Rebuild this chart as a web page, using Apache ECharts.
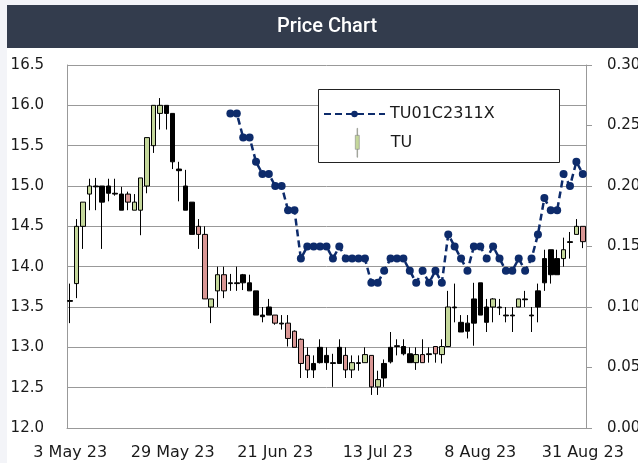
<!DOCTYPE html>
<html>
<head>
<meta charset="utf-8">
<script src="https://cdn.jsdelivr.net/npm/echarts@6/dist/echarts.min.js"></script>
<style>
html, body { margin: 0; padding: 0; background: #f3f4f8; overflow: hidden; width: 638px; height: 463px; }
#main { position: absolute; left: 7px; top: 5px; width: 693px; height: 458px; background: #ffffff; }
</style>
</head>
<body>
<div id="main"></div>
<script>
// trading days shown on the category axis
var dates = ['3 May 23','8 May 23','9 May 23','10 May 23','11 May 23','12 May 23','15 May 23','16 May 23','17 May 23','18 May 23','19 May 23','22 May 23','23 May 23','24 May 23','25 May 23','26 May 23','29 May 23','30 May 23','31 May 23',
  '1 Jun 23','2 Jun 23','6 Jun 23','7 Jun 23','8 Jun 23','9 Jun 23','12 Jun 23','13 Jun 23','14 Jun 23','15 Jun 23','16 Jun 23','19 Jun 23','20 Jun 23','21 Jun 23','22 Jun 23','23 Jun 23','26 Jun 23','27 Jun 23','28 Jun 23','29 Jun 23','30 Jun 23',
  '3 Jul 23','4 Jul 23','5 Jul 23','6 Jul 23','7 Jul 23','10 Jul 23','11 Jul 23','12 Jul 23','13 Jul 23','14 Jul 23','17 Jul 23','18 Jul 23','19 Jul 23','20 Jul 23','21 Jul 23','24 Jul 23','25 Jul 23','26 Jul 23','27 Jul 23','31 Jul 23',
  '2 Aug 23','3 Aug 23','4 Aug 23','7 Aug 23','8 Aug 23','9 Aug 23','10 Aug 23','11 Aug 23','15 Aug 23','16 Aug 23','17 Aug 23','18 Aug 23','21 Aug 23','22 Aug 23','23 Aug 23','24 Aug 23','25 Aug 23','28 Aug 23','29 Aug 23','30 Aug 23','31 Aug 23'];

// TU prices
var open = [13.58,13.79,14.50,14.90,15.00,15.00,15.00,14.91,14.90,14.90, 14.70,14.70,15.00,15.50,15.90,16.00,15.90,15.21,15.00,14.80,
  14.50,14.40,13.50,13.70,13.90,13.80,13.80,13.90,13.80,13.70, 13.40,13.50,13.40,13.30,13.30,13.20,13.10,12.90,12.80,13.00,
  12.90,12.81,13.00,12.90,12.72,12.81,12.81,12.90,12.51,12.80, 13.00,13.02,13.01,12.92,12.81,12.91,12.92,13.01,12.91,13.01,
  13.50,13.31,13.30,13.60,13.80,13.50,13.50,13.50,13.40,13.40, 13.50,13.60,13.40,13.70,14.10,14.21,14.10,14.10,14.31,14.40, 14.50];
var close = [13.57,14.50,14.80,15.00,14.99,14.80,14.91,14.90,14.70,14.80, 14.80,15.10,15.60,16.00,16.00,15.90,15.30,15.19,14.70,14.40,
  14.40,13.60,13.60,13.90,13.70,13.79,13.79,13.80,13.70,13.40, 13.38,13.40,13.30,13.29,13.11,13.00,12.80,12.72,12.72,12.81,
  12.81,12.80,12.80,12.72,12.81,12.80,12.91,12.51,12.60,12.62, 12.82,13.01,12.92,12.81,12.91,12.81,12.91,12.92,13.01,13.50,
  13.49,13.19,13.20,13.30,13.40,13.31,13.60,13.49,13.39,13.39, 13.60,13.59,13.39,13.50,13.80,13.90,13.90,14.21,14.30,14.50, 14.31];
var low = [13.30,13.61,14.22,14.70,14.70,14.22,14.81,14.88,14.70,14.70, 14.70,14.39,14.91,15.41,15.70,15.70,15.21,14.81,14.70,14.40,
  14.22,13.60,13.30,13.50,13.61,13.70,13.70,13.71,13.70,13.40, 13.31,13.40,13.28,13.22,13.01,13.00,12.62,12.62,12.62,12.80,
  12.72,12.51,12.80,12.62,12.62,12.71,12.81,12.41,12.41,12.51, 12.80,12.90,12.90,12.81,12.72,12.81,12.81,12.81,12.80,13.01,
  13.31,13.19,13.11,13.02,13.40,13.19,13.31,13.40,13.31,13.19, 13.50,13.50,13.19,13.31,13.70,13.79,13.90,14.00,14.10,14.40, 14.23];
var high = [13.79,14.59,14.80,15.09,15.10,15.00,15.09,15.09,14.99,14.93, 14.90,15.10,15.60,16.00,16.09,16.00,15.90,15.30,15.20,14.80,
  14.59,14.50,13.60,14.00,14.00,13.91,14.00,13.91,13.90,13.70, 13.50,13.60,13.40,13.40,13.40,13.21,13.11,13.00,12.90,13.10,
  13.00,12.92,13.10,13.00,12.90,12.90,13.00,12.90,12.71,12.85, 13.19,13.10,13.10,13.00,13.00,13.10,13.00,13.01,13.10,13.70,
  13.79,13.40,13.40,13.80,13.80,13.60,13.61,13.60,13.50,13.50, 13.60,13.70,13.50,13.79,14.21,14.21,14.21,14.36,14.43,14.59, 14.50];

// days drawn with a solid black body
var darkBars = [0,4,5,6,7,8,15,16,17,18,19,25,26,27,28,29,30,31,33,38,39,40,41,42,45,49,50,51,52,53,56,60,61,62,63,64,65,67,68,69,71,72,73,74,75,76,78];

// TU01C2311X (right axis)
var warrant = [null,null,null,null,null,null,null,null,null,null, null,null,null,null,null,null,null,null,null,null, null,null,null,null,null,
  0.26,0.26,0.24,0.24,0.22,0.21,0.21,0.20,0.20,0.18, 0.18,0.14,0.15,0.15,0.15,0.15,0.14,0.15,0.14,0.14,
  0.14,0.14,0.12,0.12,0.13,0.14,0.14,0.14,0.13,0.12, 0.13,0.12,0.13,0.12,0.16,0.15,0.14,0.13,0.15,0.15,
  0.14,0.15,0.14,0.13,0.13,0.14,0.13,0.14,0.16,0.19, 0.18,0.18,0.21,0.20,0.22,0.21];

var leftTicks = [12.0, 16.5, 0.5];
var rightTicks = [0, 0.30, 0.05];

var myChart = echarts.init(document.getElementById('main'));

var candles = [];
for (var i = 0; i < dates.length; i++) {
    var item = { value: [open[i], close[i], low[i], high[i]] };
    if (darkBars.indexOf(i) >= 0) {
        item.itemStyle = { color: '#000', color0: '#000' };
    }
    candles.push(item);
}

var font = 'DejaVu Sans';
var option = {
    animation: false,
    graphic: [
        { type: 'rect', shape: { x: 0, y: 0, width: 631, height: 43 }, style: { fill: '#333c4d' }, z: 0 },
        { type: 'text', x: 320, y: 22, z: 1,
          style: { text: 'Price Chart', fill: '#ffffff', font: '500 20px Roboto', textAlign: 'center', textVerticalAlign: 'middle' } },
        // legend frame
        { type: 'rect', shape: { x: 311.5, y: 84.5, width: 241, height: 73 },
          style: { fill: '#ffffff', stroke: '#222', lineWidth: 1 }, z: 3 }
    ],
    legend: [{
        data: ['TU01C2311X'],
        left: 316, top: 101, padding: 0,
        itemWidth: 61, itemHeight: 8,
        textStyle: { fontFamily: font, fontSize: 16, color: '#1a1a1a' },
        z: 5
    }, {
        data: [{
            name: 'TU',
            icon: 'path://M1.7,0h0.6v7h-0.6z M0,7h4v14h-4z M1.7,21h0.6v8h-0.6z',
            itemStyle: { color: '#c4d79b', borderColor: '#888', borderWidth: 0.6 }
        }],
        left: 348, top: 123, padding: 0,
        itemWidth: 57, itemHeight: 29,
        textStyle: { fontFamily: font, fontSize: 16, color: '#1a1a1a' },
        z: 5
    }],
    grid: { left: 60, right: 114, top: 60, bottom: 35 },
    xAxis: {
        type: 'category',
        data: dates,
        boundaryGap: true,
        axisLine: { lineStyle: { color: '#999', width: 1 } },
        axisTick: { show: false },
        axisLabel: { interval: 15, margin: 17, fontFamily: font, fontSize: 16, color: '#1a1a1a' },
        splitLine: { show: false }
    },
    yAxis: [{
        type: 'value',
        min: leftTicks[0], max: leftTicks[1], interval: leftTicks[2],
        position: 'left',
        axisLine: { show: true, lineStyle: { color: '#999', width: 1 } },
        axisTick: { show: false },
        axisLabel: { margin: 23, fontFamily: font, fontSize: 15, color: '#1a1a1a',
            formatter: function (v) { return v.toFixed(1); } },
        splitLine: { show: true, lineStyle: { color: '#999', width: 1 } }
    }, {
        type: 'value',
        min: rightTicks[0], max: rightTicks[1], interval: rightTicks[2],
        position: 'right',
        axisLine: { show: true, lineStyle: { color: '#999', width: 1 } },
        axisTick: { show: true, length: 6, lineStyle: { color: '#999' } },
        axisLabel: { margin: 21, fontFamily: font, fontSize: 15, color: '#1a1a1a',
            formatter: function (v) { return v.toFixed(2); } },
        splitLine: { show: false }
    }],
    series: [{
        name: 'TU',
        type: 'candlestick',
        yAxisIndex: 0,
        barWidth: 5,
        data: candles,
        itemStyle: {
            color: '#c4d79b', color0: '#d99694',
            borderColor: '#000', borderColor0: '#000', borderWidth: 1
        }
    }, {
        name: 'TU01C2311X',
        type: 'line',
        yAxisIndex: 1,
        data: warrant,
        symbol: 'circle',
        symbolSize: 8,
        showAllSymbol: true,
        itemStyle: { color: '#0d2b6b' },
        lineStyle: { color: '#0d2b6b', width: 2.5, type: [7, 4] },
        z: 4
    }]
};

myChart.setOption(option);
</script>
</body>
</html>
